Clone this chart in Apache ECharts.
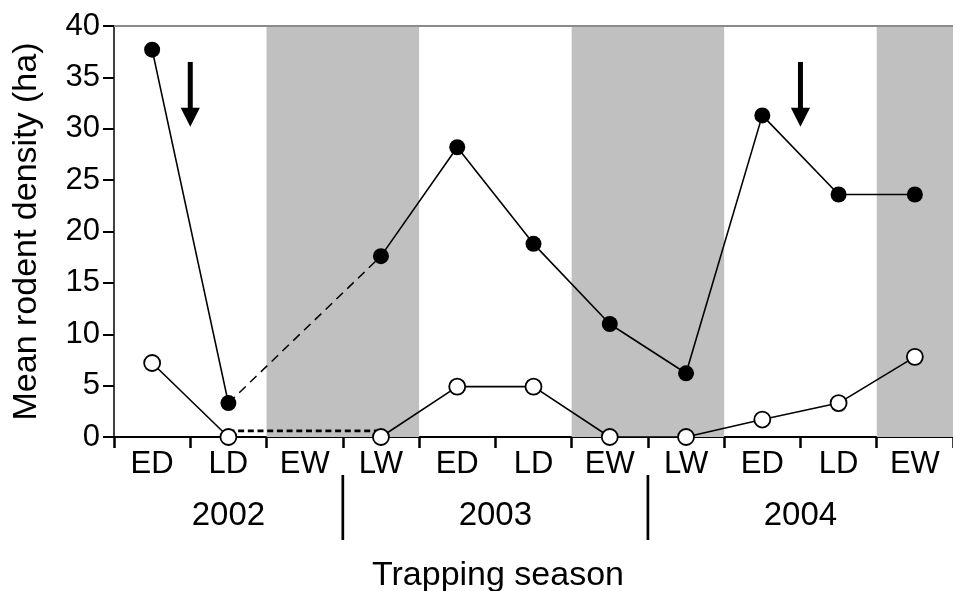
<!DOCTYPE html>
<html>
<head>
<meta charset="utf-8">
<script src="https://cdn.jsdelivr.net/npm/echarts@6/dist/echarts.min.js"></script>
<style>
html,body{margin:0;padding:0;background:#fff;}
#chart{width:953px;height:591px;}
</style>
</head>
<body>
<div id="chart"></div>
<script>
// ---- data ----
const seasons = ['ED','LD','EW','LW','ED','LD','EW','LW','ED','LD','EW'];
const filledDensity = [37.7, 3.3, null, 17.6, 28.2, 18.8, 11.0, 6.2, 31.3, 23.6, 23.6];
const openDensity   = [7.2, 0.0, null, 0.0, 4.9, 4.9, 0.0, 0.0, 1.7, 3.3, 7.8];
// dashed links across the un-sampled EW 2002 season
const filledGapLink = [null, 3.3, null, 17.6, null, null, null, null, null, null, null];
const openGapLink   = [null, 0.6, null, 0.6, null, null, null, null, null, null, null];
// shaded seasons (in season-boundary units)
const grayBands = [[2, 4], [6, 8], [10, 11]];
// years and their season spans (boundary units)
const years = ['2002', '2003', '2004'];
const yearSpans = [[0, 3], [3, 7], [7, 11]];
// arrows: [boundary position, top value, tip value]
const arrows = [[1, 36.5, 30.2], [9, 36.5, 30.2]];
const yTicks = {min: 0, max: 40, interval: 5};

const FONT = "'Liberation Sans', Arial, sans-serif";
const chart = echarts.init(document.getElementById('chart'), null, {renderer: 'canvas'});

const option = {
  backgroundColor: '#fff',
  animation: false,
  grid: {left: 114, top: 26, width: 845, height: 411, containLabel: false},
  xAxis: [
    {
      type: 'category', data: seasons, boundaryGap: true, position: 'bottom',
      axisLine: {show: true, lineStyle: {color: '#000', width: 2}},
      axisTick: {show: true, inside: false, length: 11, lineStyle: {color: '#000', width: 2.5}},
      axisLabel: {show: true, interval: 0, margin: 12, color: '#000', fontSize: 31, fontFamily: FONT},
      splitLine: {show: false}
    },
    {
      type: 'value', min: 0, max: 11, position: 'top',
      axisLine: {show: true, onZero: false, lineStyle: {color: '#8a8a8a', width: 2}},
      axisTick: {show: false}, axisLabel: {show: false}, splitLine: {show: false}
    }
  ],
  yAxis: {
    type: 'value', min: yTicks.min, max: yTicks.max, interval: yTicks.interval,
    name: 'Mean rodent density (ha)', nameLocation: 'middle', nameGap: 70,
    nameTextStyle: {color: '#000', fontSize: 34, fontFamily: FONT},
    axisLine: {show: true, lineStyle: {color: '#000', width: 1.5}},
    axisTick: {show: true, inside: false, length: 11, lineStyle: {color: '#000', width: 2}},
    axisLabel: {margin: 14, color: '#000', fontSize: 31, fontFamily: FONT},
    splitLine: {show: false}
  },
  graphic: [{
    type: 'text', x: 498, y: 576,
    style: {text: 'Trapping season', fill: '#000', font: '34px ' + FONT, textAlign: 'center', textVerticalAlign: 'middle'}
  }],
  series: [
    {
      type: 'custom', xAxisIndex: 1, yAxisIndex: 0, z: 1, clip: false, silent: true,
      data: grayBands,
      renderItem: function (params, api) {
        const p0 = api.coord([api.value(0), yTicks.max]);
        const p1 = api.coord([api.value(1), yTicks.min]);
        return {type: 'rect', shape: {x: p0[0], y: p0[1] + 1, width: p1[0] - p0[0], height: p1[1] - p0[1] - 1},
                style: {fill: '#c0c0c0'}};
      }
    },
    {
      type: 'custom', xAxisIndex: 1, yAxisIndex: 0, z: 5, clip: false, silent: true,
      data: yearSpans.map((s, i) => [s[0], s[1], i]),
      renderItem: function (params, api) {
        const a = api.coord([api.value(0), 0]);
        const b = api.coord([api.value(1), 0]);
        const idx = api.value(2);
        const children = [{
          type: 'text', x: (a[0] + b[0]) / 2, y: a[1] + 79,
          style: {text: years[idx], fill: '#000', font: '33px ' + FONT, textAlign: 'center', textVerticalAlign: 'middle'}
        }];
        if (idx > 0) {
          children.push({type: 'line', shape: {x1: a[0], y1: a[1] + 38, x2: a[0], y2: a[1] + 103},
                         style: {stroke: '#000', lineWidth: 2.7}});
        }
        return {type: 'group', children: children};
      }
    },
    {
      type: 'custom', xAxisIndex: 1, yAxisIndex: 0, z: 6, clip: false, silent: true,
      data: arrows,
      renderItem: function (params, api) {
        const top = api.coord([api.value(0), api.value(1)]);
        const tip = api.coord([api.value(0), api.value(2)]);
        const headLen = 19, headHalf = 9.6, shaftHalf = 2.5;
        return {type: 'group', children: [
          {type: 'rect', shape: {x: top[0] - shaftHalf, y: top[1], width: shaftHalf * 2, height: tip[1] - headLen - top[1] + 1},
           style: {fill: '#000'}},
          {type: 'polygon', shape: {points: [[tip[0] - headHalf, tip[1] - headLen], [tip[0] + headHalf, tip[1] - headLen], [tip[0], tip[1]]]},
           style: {fill: '#000'}}
        ]};
      }
    },
    {
      name: 'filled gap', type: 'line', xAxisIndex: 0, z: 3, data: filledGapLink, connectNulls: true,
      symbol: 'none', lineStyle: {color: '#000', width: 1.5, type: [9, 6]}, silent: true
    },
    {
      name: 'open gap', type: 'line', xAxisIndex: 0, z: 3, data: openGapLink, connectNulls: true,
      symbol: 'none', lineStyle: {color: '#000', width: 2.8, type: [6, 3.7]}, silent: true
    },
    {
      name: 'filled', type: 'line', xAxisIndex: 0, z: 4, data: filledDensity, connectNulls: false,
      symbol: 'circle', symbolSize: 16, showAllSymbol: true,
      itemStyle: {color: '#000', borderColor: '#000', borderWidth: 0},
      lineStyle: {color: '#000', width: 1.6}, silent: true
    },
    {
      name: 'open', type: 'line', xAxisIndex: 0, z: 4, data: openDensity, connectNulls: false,
      symbol: 'circle', symbolSize: 16, showAllSymbol: true,
      itemStyle: {color: '#fff', borderColor: '#000', borderWidth: 1.8},
      lineStyle: {color: '#000', width: 1.6}, silent: true
    }
  ]
};
chart.setOption(option);
</script>
</body>
</html>
